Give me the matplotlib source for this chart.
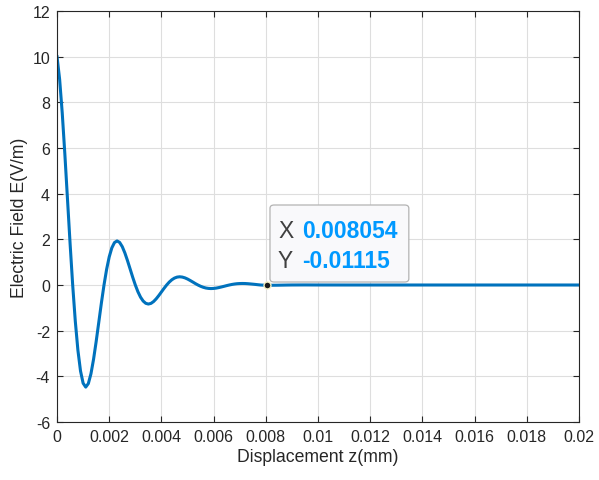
import numpy as np
import matplotlib.pyplot as plt
from matplotlib.patches import FancyBboxPatch

plt.rcParams['font.family'] = ['Liberation Sans', 'DejaVu Sans']
plt.rcParams['axes.unicode_minus'] = False

# sampled field along the axis, step 0.1 um up to 8 um, then the flat tail
z_mm = [0.0000, 0.0001, 0.0002, 0.0003, 0.0004, 0.0005, 0.0006, 0.0007, 0.0008, 0.0009,
        0.0010, 0.0011, 0.0012, 0.0013, 0.0014, 0.0015, 0.0016, 0.0017, 0.0018, 0.0019,
        0.0020, 0.0021, 0.0022, 0.0023, 0.0024, 0.0025, 0.0026, 0.0027, 0.0028, 0.0029,
        0.0030, 0.0031, 0.0032, 0.0033, 0.0034, 0.0035, 0.0036, 0.0037, 0.0038, 0.0039,
        0.0040, 0.0041, 0.0042, 0.0043, 0.0044, 0.0045, 0.0046, 0.0047, 0.0048, 0.0049,
        0.0050, 0.0051, 0.0052, 0.0053, 0.0054, 0.0055, 0.0056, 0.0057, 0.0058, 0.0059,
        0.0060, 0.0061, 0.0062, 0.0063, 0.0064, 0.0065, 0.0066, 0.0067, 0.0068, 0.0069,
        0.0070, 0.0071, 0.0072, 0.0073, 0.0074, 0.0075, 0.0076, 0.0077, 0.0078, 0.0079,
        0.0080, 0.008054, 0.0082, 0.0084, 0.0086, 0.0088, 0.0090, 0.0095, 0.0100,
        0.0110, 0.0120, 0.0140, 0.0160, 0.0180, 0.0200]
e_field = [10.000, 9.006, 7.529, 5.732, 3.779, 1.824, 0.000, -1.585, -2.856, -3.766,
           -4.301, -4.472, -4.317, -3.888, -3.250, -2.474, -1.632, -0.787, 0.000, 0.685,
           1.233, 1.626, 1.857, 1.931, 1.864, 1.679, 1.403, 1.068, 0.705, 0.340,
           0.000, -0.296, -0.533, -0.702, -0.802, -0.834, -0.805, -0.724, -0.605, -0.461,
           -0.304, -0.147, 0.000, 0.128, 0.230, 0.303, 0.346, 0.360, 0.347, 0.313,
           0.262, 0.199, 0.132, 0.063, 0.000, -0.055, -0.099, -0.131, -0.149, -0.156,
           -0.150, -0.135, -0.113, -0.086, -0.057, -0.027, 0.000, 0.024, 0.043, 0.057,
           0.064, 0.067, 0.065, 0.058, 0.048, 0.037, 0.025, 0.012, 0.000, -0.006,
           -0.010, -0.01115, -0.012, -0.010, -0.006, -0.002, 0.001, 0.003, 0.001,
           0.000, 0.000, 0.000, 0.000, 0.000, 0.000]

tip_x = 0.008054
tip_y = -0.01115

xticks = np.arange(0, 0.0201, 0.002)
xlabels = ['0', '0.002', '0.004', '0.006', '0.008', '0.01', '0.012', '0.014', '0.016', '0.018', '0.02']
yticks = np.arange(-6, 13, 2)

fig = plt.figure(figsize=(5.99, 4.81), dpi=100)
ax = fig.add_axes([0.0952, 0.1206, 0.8714, 0.8544])

ax.plot(z_mm, e_field, color='#0072BD', lw=2.2, solid_joinstyle='round')
ax.plot(tip_x, tip_y, 'o', ms=5, mfc='#1a1a1a', mec='#f2eec0', mew=1.0, zorder=5)

ax.set_xlim(0, 0.02)
ax.set_ylim(-6, 12)
ax.set_xticks(xticks)
ax.set_xticklabels(xlabels)
ax.set_yticks(yticks)
ax.grid(True, color='#dedede', lw=0.8)
ax.set_axisbelow(True)
ax.tick_params(direction='in', top=True, right=True, length=4, width=0.8,
               colors='#262626', labelsize=11.5, pad=5)
for s in ax.spines.values():
    s.set_color('#262626')
    s.set_linewidth(0.8)

ax.set_xlabel('Displacement z(mm)', fontsize=12.7, color='#262626', labelpad=3)
ax.set_ylabel('Electric Field E(V/m)', fontsize=12.7, color='#262626', labelpad=3)

# datatip box, anchored just above the marked point
box = FancyBboxPatch((0.408, 0.3406), 0.266, 0.1874, transform=ax.transAxes,
                     boxstyle='round,pad=0,rounding_size=0.008',
                     fc='#f9f9fb', ec='#b3b3b3', lw=0.9, zorder=6)
ax.add_patch(box)
ax.text(0.4234, 0.467, 'X', transform=ax.transAxes, fontsize=16.5, color='#404040',
        va='center', ha='left', zorder=7)
ax.text(0.4688, 0.467, f'{tip_x:.6f}', transform=ax.transAxes, fontsize=16.5,
        color='#0099FF', fontweight='bold', va='center', ha='left', zorder=7)
ax.text(0.4234, 0.392, 'Y', transform=ax.transAxes, fontsize=16.5, color='#404040',
        va='center', ha='left', zorder=7)
ax.text(0.4688, 0.392, f'{tip_y:.5f}', transform=ax.transAxes, fontsize=16.5,
        color='#0099FF', fontweight='bold', va='center', ha='left', zorder=7)

fig.savefig('out.png', dpi=100)
